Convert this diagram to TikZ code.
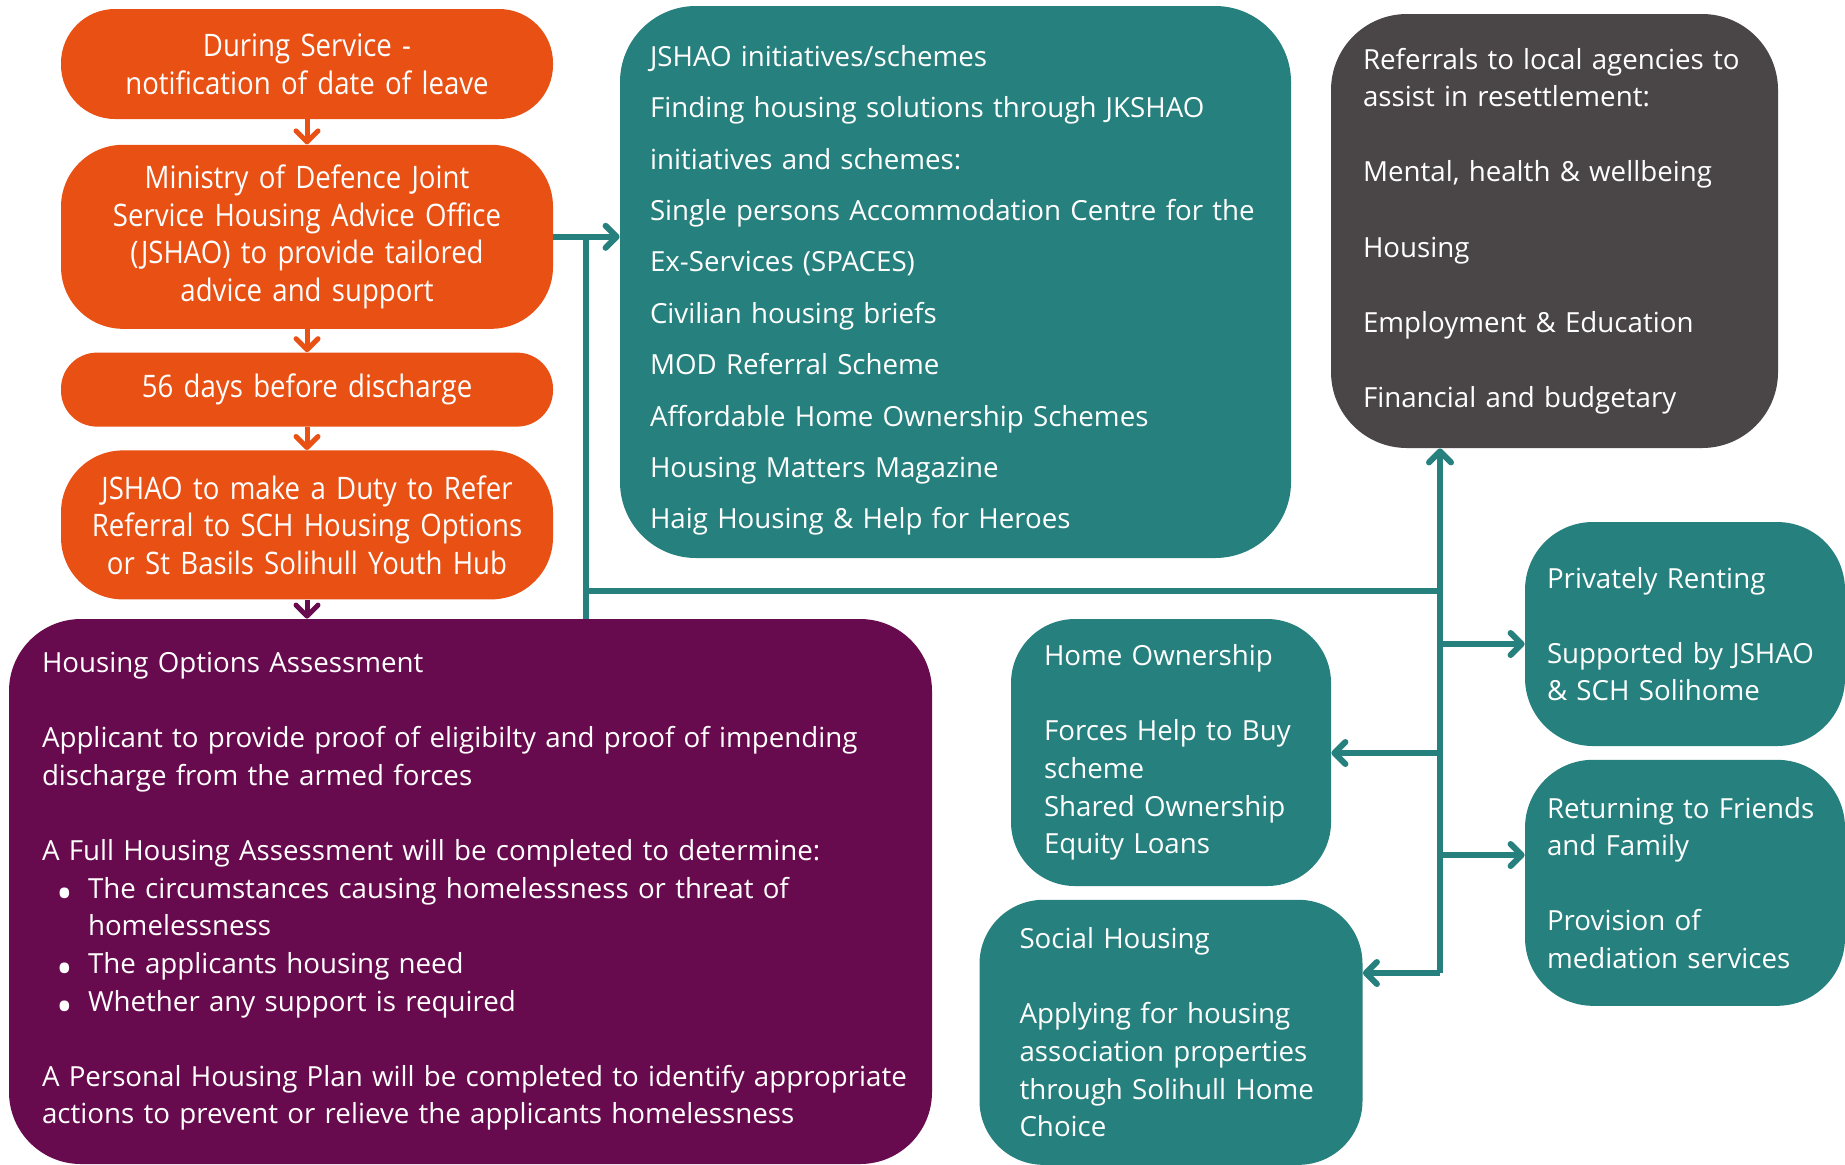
\documentclass[tikz,border=0pt]{standalone}
\usepackage{fontspec}
\setmainfont{Open Sans}
\newfontfamily\stagefont{Open Sans}[FakeStretch=0.89]
\usepackage{tikz}
\usetikzlibrary{arrows.meta}
\usetikzlibrary{positioning}

\definecolor{jorange}{HTML}{E85014}
\definecolor{jteal}{HTML}{26807D}
\definecolor{jgrey}{HTML}{4A4546}
\definecolor{jpurple}{HTML}{680A4E}

\newcommand{\optbullet}{\makebox[23pt][l]{\hspace{7pt}\raisebox{-0.4em}[0pt][0pt]{\scalebox{1.6}{•}}}}

\begin{document}
\begin{tikzpicture}
\tikzstyle{stage node}=[rectangle,fill=jorange,text=white,align=center,text width=240pt,inner xsep=3pt,inner ysep=2pt,font=\stagefont\fontsize{15.5pt}{18.8pt}\selectfont]
\tikzstyle{offer node}=[rectangle,fill=jteal,text=white,align=left,inner ysep=2pt,font=\fontsize{13.85pt}{18.8pt}\selectfont]
\tikzstyle{agency node}=[offer node,fill=jgrey]
\tikzstyle{opts node}=[offer node,fill=jpurple]
\tikzset{
  down/.style = {draw=jorange,line width=2.5pt,-{Straight Barb[round,length=5.5pt,width=11pt]}},
  flow/.style = {draw=jteal,line width=3pt,-{Straight Barb[round,length=5.5pt,width=11pt]}},
  link/.style = {draw=jteal,line width=3pt}
}

\path[use as bounding box,fill=white] (0,0) rectangle (922.5pt,-582pt);

    %% left column
    \node[stage node,minimum height=55pt,rounded corners=27pt] (leave) at (153.5pt,-32pt) {During Service -\\notification of date of leave};
    \node[stage node,minimum height=92pt,rounded corners=31pt] (mod) [below=12.5pt of leave] {Ministry of Defence Joint\\Service Housing Advice Office\\(JSHAO) to provide tailored\\advice and support};
    \node[stage node,minimum height=37pt,rounded corners=18pt] (days) [below=11.5pt of mod] {56 days before discharge};
    \node[stage node,minimum height=74.5pt,rounded corners=31pt] (refer) [below=11.5pt of days] {JSHAO to make a Duty to Refer\\Referral to SCH Housing Options\\or St Basils Solihull Youth Hub};

    \node[opts node,text width=428.5pt,inner xsep=16.5pt,minimum height=272.5pt,rounded corners=36pt] (opts) at (235.25pt,-445.75pt) {Housing Options Assessment\\[18.8pt]
Applicant to provide proof of eligibilty and proof of impending\\discharge from the armed forces\\[18.8pt]
A Full Housing Assessment will be completed to determine:\\
\optbullet The circumstances causing homelessness or threat of\\
\makebox[23pt][l]{}homelessness\\
\optbullet The applicants housing need\\
\optbullet Whether any support is required\\[18.8pt]
\mbox{A Personal Housing Plan will be completed to identify appropriate}\\actions to prevent or relieve the applicants homelessness};

    %% middle and right
    \node[offer node,text width=305.5pt,inner xsep=15pt,minimum height=276pt,rounded corners=38pt,font=\fontsize{13.85pt}{25.7pt}\selectfont] (initiatives) at (477.75pt,-141pt) {\rule{0pt}{19pt}JSHAO initiatives/schemes\\Finding housing solutions through JKSHAO\\initiatives and schemes:\\Single persons Accommodation Centre for the\\Ex-Services (SPACES)\\Civilian housing briefs\\MOD Referral Scheme\\Affordable Home Ownership Schemes\\Housing Matters Magazine\\Haig Housing \& Help for Heroes};
    \node[agency node,text width=191.5pt,inner xsep=16pt,minimum height=217pt,rounded corners=38pt] (agencies) at (777.25pt,-115.5pt) {Referrals to local agencies to\\assist in resettlement:\\[18.8pt]Mental, health \& wellbeing\\[18.8pt]Housing\\[18.8pt]Employment \& Education\\[18.8pt]Financial and budgetary};

    \node[offer node,text width=138pt,inner xsep=11pt,minimum height=112pt,rounded corners=34pt] (priv) at (842.5pt,-317pt) {Privately Renting\\[18.8pt]Supported by JSHAO\\\& SCH Solihome};
    \node[offer node,text width=138pt,inner xsep=11pt,minimum height=123pt,rounded corners=34pt] (family) [below=6.5pt of priv] {Returning to Friends\\and Family\\[18.8pt]Provision of\\mediation services};
    \node[offer node,text width=127pt,inner xsep=16.5pt,minimum height=133.5pt,rounded corners=32pt] (owner) at (585.5pt,-376.25pt) {Home Ownership\\[18.8pt]\makebox[128pt][s]{Forces Help to Buy}\\scheme\\Shared Ownership\\Equity Loans};
    \node[offer node,text width=151.5pt,inner xsep=20pt,minimum height=132.5pt,rounded corners=32pt] (social) [below=6.5pt of owner] {Social Housing\\[18.8pt]Applying for housing\\association properties\\through Solihull Home\\Choice};

    %%%%%%%%%%%%%%%%%%%%%%%%%%%%%%%%%%
    \coordinate (lfork) at (293pt,-295.5pt);
    \coordinate (rfork) at (720pt,-295.5pt);
    \coordinate (toPriv) at (720pt,-322pt);
    \coordinate (toOwner) at (720pt,-376.5pt);
    \coordinate (toFamily) at (720pt,-427.5pt);
    \coordinate (toSocial) at (720pt,-486.5pt);

    \path[down]
         (leave) edge (mod)
         (mod) edge (days)
         (days) edge (refer);
    \path[down,draw=jpurple]
         (refer) edge (refer |- opts.north);

    \draw[flow] (mod.east) -- (mod.east -| initiatives.west);
    \draw[link] (mod.east -| lfork) -- (lfork |- opts.north);
    \draw[link] (lfork) -- (rfork);
    \draw[flow] (toSocial) -- (toSocial |- agencies.south);
    \draw[flow] (toPriv) -- (toPriv -| priv.west);
    \draw[flow] (toOwner) -- (toOwner -| owner.east);
    \draw[flow] (toFamily) -- (toFamily -| family.west);
    \draw[flow] (toSocial) -- (toSocial -| social.east);
\end{tikzpicture}
\end{document}
